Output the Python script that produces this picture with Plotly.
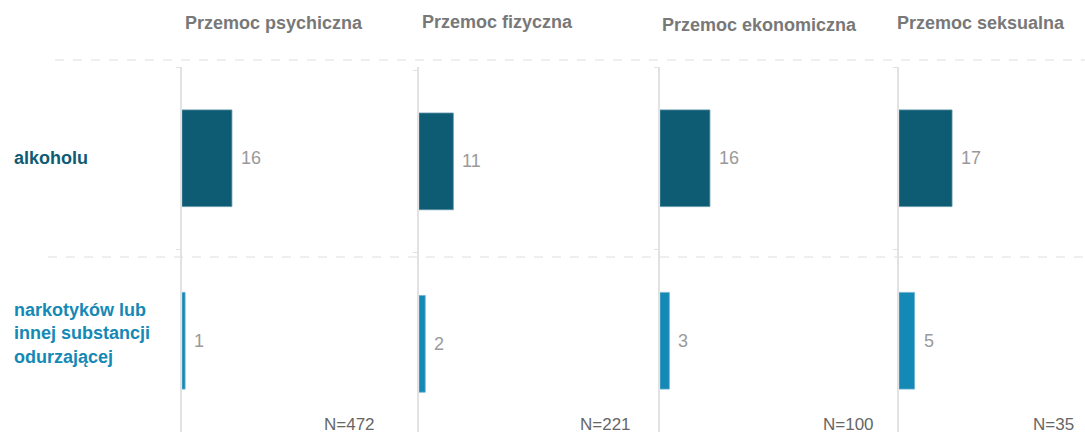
import plotly.graph_objects as go

# Data
panels = ["Przemoc psychiczna", "Przemoc fizyczna", "Przemoc ekonomiczna", "Przemoc seksualna"]
categories = ["alkoholu", "narkotyków lub<br>innej substancji<br>odurzającej"]
alkohol = [16, 11, 16, 17]
narkotyki = [1, 2, 3, 5]
n_labels = ["N=472", "N=221", "N=100", "N=35"]

W, H = 1085, 432
DARK = "#0e5b74"
LIGHT = "#1589b5"
FONT = "Liberation Sans, Arial, sans-serif"
PX_PER_UNIT = 3.12

# Panel pixel extents (left, right)
panel_px = [(182, 410), (419, 651), (660, 891), (899, 1085)]
# Fine vertical offset of each panel (in category units)
y_shift = [0.0, 0.017, 0.0, 0.0]
n_right = [377, 633, 876, 1076]
header_pos = [(183, 23), (420, 22), (660, 25), (895, 23)]

fig = go.Figure()
cats_short = ["alk", "nark"]

for i in range(4):
    xa = "x" if i == 0 else f"x{i+1}"
    ya = "y" if i == 0 else f"y{i+1}"
    fig.add_trace(go.Bar(
        x=[alkohol[i], narkotyki[i]],
        y=cats_short,
        orientation="h",
        width=0.53,
        marker=dict(color=[DARK, LIGHT], line=dict(color=["#5f93a8", "#6fb3cf"], width=0.8)),
        xaxis=xa, yaxis=ya,
        showlegend=False,
        hoverinfo="x",
    ))
    l, r = panel_px[i]
    fig.layout[f"xaxis{'' if i == 0 else i+1}"] = dict(
        domain=[l / W, r / W],
        range=[0, (r - l) / PX_PER_UNIT],
        visible=False,
        anchor=ya,
        fixedrange=True,
    )
    fig.layout[f"yaxis{'' if i == 0 else i+1}"] = dict(
        domain=[0, (H - 67) / H],
        anchor=xa,
        type="category",
        categoryorder="array",
        categoryarray=cats_short,
        range=[1.5 - y_shift[i], -0.5 - y_shift[i]],
        showline=True, linecolor="#e2e2e2", linewidth=1.5,
        ticks="outside", ticklen=4, tickcolor="#e2e2e2", tickwidth=1,
        tickson="boundaries",
        showticklabels=False,
        showgrid=False, zeroline=False,
        fixedrange=True,
    )
    # value labels
    for val, cat in zip([alkohol[i], narkotyki[i]], cats_short):
        fig.add_annotation(
            x=val, y=cat, xref=xa, yref=ya,
            text=str(val), showarrow=False,
            xanchor="left", xshift=7,
            font=dict(family=FONT, size=18, color="#9a9a9a"),
        )
    # panel headers
    hx, hy = header_pos[i]
    fig.add_annotation(
        x=hx / W, y=1 - hy / H, xref="paper", yref="paper",
        text=f"<b>{panels[i]}</b>", showarrow=False,
        xanchor="left", yanchor="middle",
        font=dict(family=FONT, size=18, color="#787878"),
    )
    # sample sizes
    fig.add_annotation(
        x=n_right[i] / W, y=1 - 424 / H, xref="paper", yref="paper",
        text=n_labels[i], showarrow=False,
        xanchor="right", yanchor="middle",
        font=dict(family=FONT, size=17, color="#666666"),
    )

# category labels on the left
cat_colors = [DARK, LIGHT]
cat_yshift = [0, 7]
for cat, label, col, ys in zip(cats_short, categories, cat_colors, cat_yshift):
    fig.add_annotation(
        x=12 / W, y=cat, xref="paper", yref="y",
        text=f"<b>{label}</b>", showarrow=False,
        xanchor="left", align="left", yshift=ys,
        font=dict(family=FONT, size=18, color=col),
    )

# dashed separators
for (x0, ypx) in [(55, 60), (48, 257)]:
    fig.add_shape(
        type="line", xref="paper", yref="paper",
        x0=x0 / W, x1=1, y0=1 - ypx / H, y1=1 - ypx / H,
        line=dict(color="#dedede", width=1, dash="dash"),
        layer="below",
    )

fig.update_layout(
    width=W, height=H,
    margin=dict(l=0, r=0, t=0, b=0),
    paper_bgcolor="white", plot_bgcolor="white",
    bargap=0.47,
    font=dict(family=FONT),
)

fig.write_html("out.html", config={"displayModeBar": False})
